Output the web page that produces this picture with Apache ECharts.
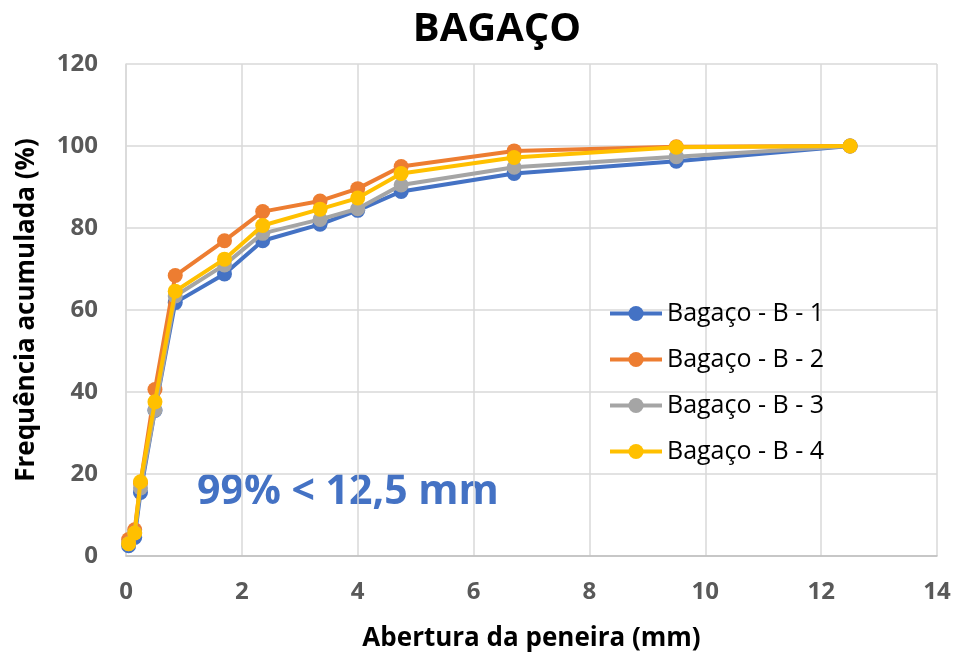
<!DOCTYPE html>
<html>
<head>
<meta charset="utf-8">
<script src="https://cdn.jsdelivr.net/npm/echarts@6/dist/echarts.min.js"></script>
<style>
  html, body { margin: 0; padding: 0; background: #fff; }
  #chart { width: 955px; height: 657px; }
</style>
</head>
<body>
<div id="chart"></div>
<script>
// Sieve openings (mm)
const aberturas = [0.045, 0.15, 0.25, 0.5, 0.85, 1.7, 2.36, 3.35, 4.0, 4.75, 6.7, 9.5, 12.5];

// Cumulative passing (%) for each sample
const b1 = [2.5, 4.5, 15.5, 35.5, 61.8, 68.8, 76.9, 80.9, 84.3, 88.9, 93.3, 96.3, 100];
const b2 = [4.0, 6.4, 17.8, 40.6, 68.4, 76.9, 84.0, 86.6, 89.6, 95.0, 98.8, 99.8, 100];
const b3 = [3.0, 5.6, 16.6, 35.6, 63.4, 71.0, 78.7, 82.1, 84.7, 90.5, 94.8, 97.4, 100];
const b4 = [3.0, 5.6, 18.1, 37.6, 64.6, 72.4, 80.6, 84.6, 87.3, 93.3, 97.2, 99.7, 100];

const nomes = ['Bagaço - B - 1', 'Bagaço - B - 2', 'Bagaço - B - 3', 'Bagaço - B - 4'];
const cores = ['#4472C4', '#ED7D31', '#A5A5A5', '#FFC000'];
const valores = [b1, b2, b3, b4];

const xTicks = { min: 0, max: 14, interval: 2 };
const yTicks = { min: 0, max: 120, interval: 20 };

const fonte = '"Open Sans", "Noto Sans", sans-serif';

const chart = echarts.init(document.getElementById('chart'));

const series = nomes.map((nome, i) => ({
  name: nome,
  type: 'line',
  data: aberturas.map((x, j) => [x, valores[i][j]]),
  symbol: 'circle',
  symbolSize: 15,
  lineStyle: { width: 4, color: cores[i] },
  itemStyle: { color: cores[i] },
  z: 2 + i
}));

chart.setOption({
  animation: false,
  title: {
    text: 'BAGAÇO',
    left: 492,
    textAlign: 'center',
    top: 5,
    textStyle: { fontFamily: fonte, fontWeight: 'bold', fontSize: 40, color: '#000' }
  },
  grid: { left: 126, right: 18, top: 64, bottom: 101, outerBoundsMode: 'none' },
  legend: {
    orient: 'vertical',
    left: 603,
    top: 296,
    itemWidth: 52,
    itemHeight: 19,
    itemGap: 21,
    data: nomes,
    lineStyle: { width: 4 },
    textStyle: { fontFamily: fonte, fontSize: 25, color: '#000' }
  },
  xAxis: {
    type: 'value',
    min: xTicks.min, max: xTicks.max, interval: xTicks.interval,
    name: 'Abertura da peneira (mm)',
    nameLocation: 'middle',
    nameGap: 70,
    nameTextStyle: { fontFamily: fonte, fontWeight: 'bold', fontSize: 26, color: '#000' },
    axisLine: { show: true, lineStyle: { color: '#bfbfbf', width: 1.5 } },
    axisTick: { show: false },
    axisLabel: { fontFamily: fonte, fontWeight: 'bold', fontSize: 24, color: '#595959', margin: 24 },
    splitLine: { show: true, lineStyle: { color: '#d9d9d9', width: 1.5 } }
  },
  yAxis: {
    type: 'value',
    min: yTicks.min, max: yTicks.max, interval: yTicks.interval,
    name: 'Frequência acumulada (%)',
    nameLocation: 'middle',
    nameGap: 86,
    nameTextStyle: { fontFamily: fonte, fontWeight: 'bold', fontSize: 26, color: '#000' },
    axisLine: { show: true, lineStyle: { color: '#d9d9d9', width: 1.5 } },
    axisTick: { show: false },
    axisLabel: { fontFamily: fonte, fontWeight: 'bold', fontSize: 24, color: '#595959', margin: 28 },
    splitLine: { show: true, lineStyle: { color: '#d9d9d9', width: 1.5 } }
  },
  graphic: [{
    type: 'text',
    left: 197,
    top: 472,
    style: {
      text: '99% < 12,5 mm',
      fontFamily: fonte,
      fontWeight: 'bold',
      fontSize: 41,
      fill: '#4472C4'
    }
  }],
  series: series
});
</script>
</body>
</html>
